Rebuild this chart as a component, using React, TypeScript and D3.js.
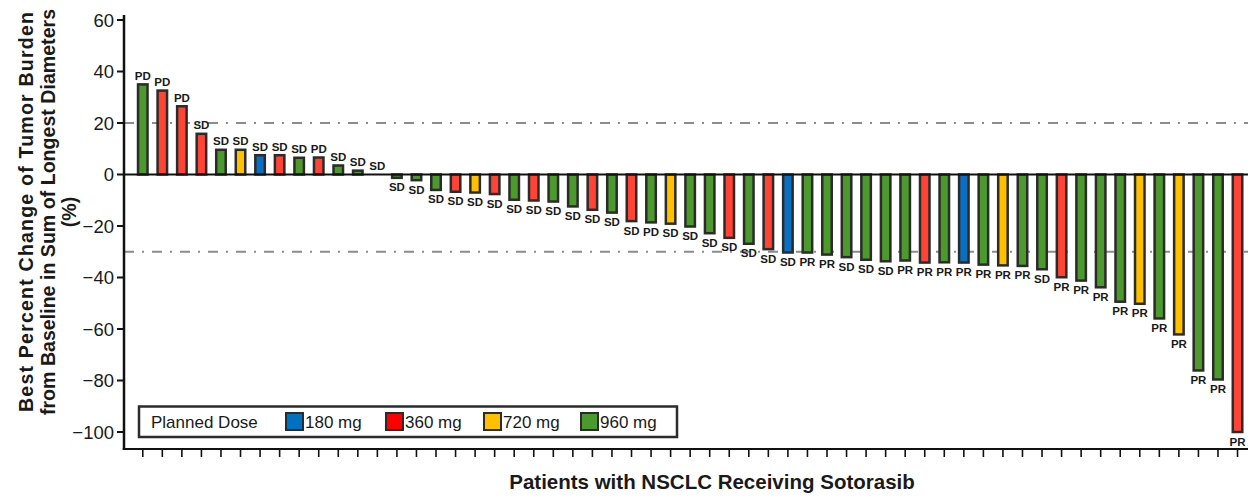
import React from "react";
import * as d3 from "d3";

// Best percent change per patient (sorted, as in the waterfall)
const changeValues: number[] = [
  35.0, 32.6, 26.5, 15.8, 9.6, 9.6, 7.5, 7.5, 6.5, 6.6, 3.5, 1.5, 0.0,
  -1.3, -2.2, -6.0, -6.7, -7.0, -7.6, -9.8, -10.1, -10.5, -12.4, -13.7, -14.8,
  -18.1, -18.6, -19.1, -20.2, -22.8, -24.6, -26.9, -29.0, -30.3, -30.3,
  -31.1, -32.1, -33.1, -33.7, -33.4, -34.2, -34.1, -34.2, -35.0, -35.3, -35.5,
  -36.8, -39.9, -41.2, -43.8, -49.4, -50.2, -55.9, -62.1, -76.1, -79.6, -100,
];

// Planned dose (mg) per patient
const doses: number[] = [
  960, 360, 360, 360, 960, 720, 180, 360, 960, 360, 960, 960, 960,
  960, 960, 960, 360, 720, 360, 960, 360, 960, 960, 360, 960,
  360, 960, 720, 960, 960, 360, 960, 360, 180, 960,
  960, 960, 960, 960, 960, 360, 960, 180, 960, 720, 960,
  960, 360, 960, 960, 960, 720, 960, 720, 960, 960, 360,
];

// Best overall response per patient
const responses: string[] = [
  "PD", "PD", "PD", "SD", "SD", "SD", "SD", "SD", "SD", "PD", "SD", "SD", "SD",
  "SD", "SD", "SD", "SD", "SD", "SD", "SD", "SD", "SD", "SD", "SD", "SD",
  "SD", "PD", "SD", "SD", "SD", "SD", "SD", "SD", "SD", "PR",
  "PR", "SD", "SD", "SD", "PR", "PR", "PR", "PR", "PR", "PR", "PR",
  "SD", "PR", "PR", "PR", "PR", "PR", "PR", "PR", "PR", "PR", "PR",
];

const yTicks: number[] = [60, 40, 20, 0, -20, -40, -60, -80, -100];
const thresholds: number[] = [20, -30];

const legendDoses: number[] = [180, 360, 720, 960];
const legendLabels: string[] = ["180 mg", "360 mg", "720 mg", "960 mg"];
const barColors: string[] = ["#0a6fc2", "#ff4335", "#ffc000", "#4c9a2e"];
const legendColors: string[] = ["#0070c0", "#ff0000", "#ffc000", "#4c9a2e"];

const W = 1248;
const H = 497;
const FONT = "'Liberation Sans', Arial, Helvetica, sans-serif";

export default function App() {
  const axisX = 124;
  const axisBottom = 449;
  const axisTop = 15;
  const right = 1248;

  const ids = changeValues.map((_, i) => String(i));
  const x = d3.scaleBand<string>().domain(ids).range([133, 1247.3]).padding(0);
  const y = d3.scaleLinear().domain([-100, 60]).range([432, 20]);
  const color = d3.scaleOrdinal<number, string>().domain(legendDoses).range(barColors);
  const legendColor = d3.scaleOrdinal<number, string>().domain(legendDoses).range(legendColors);

  const barW = 9.5;
  const swatchX = [286, 386, 484, 581];

  return (
    <svg
      width={W}
      height={H}
      style={{ position: "absolute", left: 0, top: 0, background: "#fff" }}
      fontFamily={FONT}
    >
      {/* threshold dash-dot lines */}
      {thresholds.map((t) => (
        <line
          key={t}
          x1={axisX}
          x2={right}
          y1={y(t)}
          y2={y(t)}
          stroke="#8c8c8c"
          strokeWidth={2}
          strokeDasharray="10 8 2 8"
        />
      ))}

      {/* bars */}
      {changeValues.map((v, i) => {
        const cx = x(ids[i])! + x.bandwidth() / 2;
        const y0 = y(0);
        const yv = y(v);
        const top = Math.min(y0, yv);
        const h = Math.abs(yv - y0);
        return (
          <g key={i}>
            {h > 0 && (
              <rect
                x={cx - barW / 2}
                y={top}
                width={barW}
                height={h}
                fill={color(doses[i])}
                stroke="#2b2b2b"
                strokeWidth={2.5}
              />
            )}
            <text
              x={cx}
              y={v >= 0 ? yv - 4.5 : yv + 13.5}
              textAnchor="middle"
              fontSize={11.5}
              fontWeight="bold"
              fill="#1a1a1a"
            >
              {responses[i]}
            </text>
          </g>
        );
      })}

      {/* zero line */}
      <line x1={axisX} x2={right} y1={y(0)} y2={y(0)} stroke="#111" strokeWidth={2.2} />

      {/* y axis */}
      <line x1={axisX} x2={axisX} y1={axisTop} y2={axisBottom + 1} stroke="#111" strokeWidth={2.5} />
      {yTicks.map((t) => (
        <g key={t}>
          <line x1={axisX - 7} x2={axisX} y1={y(t)} y2={y(t)} stroke="#111" strokeWidth={2} />
          <text
            x={axisX - 10}
            y={y(t)}
            dy="0.36em"
            textAnchor="end"
            fontSize={18.5}
            fill="#1a1a1a"
          >
            {t < 0 ? "\u2212" + Math.abs(t) : String(t)}
          </text>
        </g>
      ))}

      {/* x axis */}
      <line x1={axisX - 1.25} x2={right} y1={axisBottom} y2={axisBottom} stroke="#111" strokeWidth={2.2} />
      {ids.map((id) => {
        const cx = x(id)! + x.bandwidth() / 2;
        return (
          <line key={id} x1={cx} x2={cx} y1={axisBottom} y2={axisBottom + 8} stroke="#111" strokeWidth={1.6} />
        );
      })}

      {/* y axis title */}
      <g transform="translate(0,212) rotate(-90)">
        <text
          x={0}
          y={33}
          textAnchor="middle"
          fontSize={19.6}
          fontWeight="bold"
          fill="#1a1a1a"
          textLength={400}
          lengthAdjust="spacing"
        >
          Best Percent Change of Tumor Burden
        </text>
        <text x={0} y={55} textAnchor="middle" fontSize={19.6} fontWeight="bold" fill="#1a1a1a">
          from Baseline in Sum of Longest Diameters
        </text>
        <text x={0} y={76} textAnchor="middle" fontSize={19.6} fontWeight="bold" fill="#1a1a1a">
          (%)
        </text>
      </g>

      {/* x axis title */}
      <text x={712} y={489} textAnchor="middle" fontSize={20.5} fontWeight="bold" fill="#1a1a1a">
        Patients with NSCLC Receiving Sotorasib
      </text>

      {/* legend */}
      <g>
        <rect x={139} y={406.5} width={538} height={30.5} fill="#fff" stroke="#2b2b2b" strokeWidth={2.5} />
        <text x={151} y={428} fontSize={17} fill="#1a1a1a">
          Planned Dose
        </text>
        {legendDoses.map((d, i) => (
          <g key={d}>
            <rect
              x={swatchX[i]}
              y={413}
              width={17}
              height={17}
              fill={legendColor(d)}
              stroke="#2b2b2b"
              strokeWidth={2}
            />
            <text x={swatchX[i] + 19} y={428} fontSize={17} fill="#1a1a1a">
              {legendLabels[i]}
            </text>
          </g>
        ))}
      </g>
    </svg>
  );
}
